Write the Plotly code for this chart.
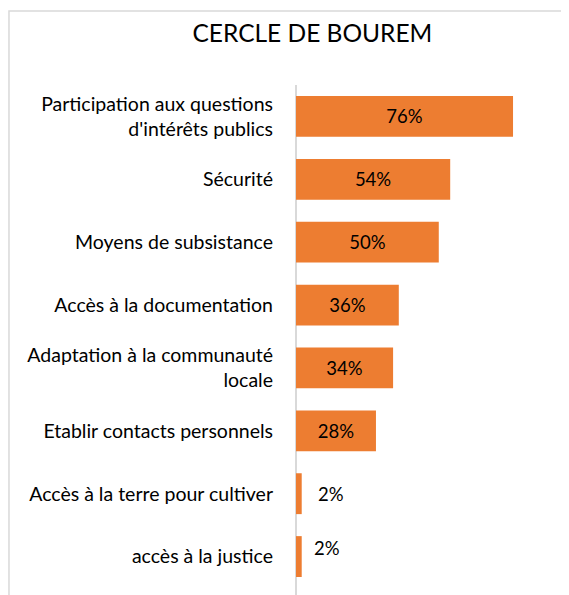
import plotly.graph_objects as go

categories = [
    "Participation aux questions<br>d'intérêts publics",
    "Sécurité",
    "Moyens de subsistance",
    "Accès à la documentation",
    "Adaptation à la communauté<br>locale",
    "Etablir contacts personnels",
    "Accès à la terre pour cultiver",
    "accès à la justice",
]
values = [76, 54, 50, 36, 34, 28, 2, 2]
labels = ["76%", "54%", "50%", "36%", "34%", "28%", "2%", "2%"]

FONT = "Lato, 'Open Sans', sans-serif"
inside_text = [t if v >= 10 else "" for t, v in zip(labels, values)]

fig = go.Figure(go.Bar(
    y=categories,
    x=values,
    orientation="h",
    marker=dict(color="#ED7D31", line=dict(width=0)),
    text=inside_text,
    textposition="inside",
    insidetextanchor="middle",
    textfont=dict(family=FONT, size=18.5, color="#000000"),
    hoverinfo="skip",
))

annotations = []
offsets = [(14, 0), (10, 9)]
k = 0
for c, v, t in zip(categories, values, labels):
    if v < 10:
        xs, ys = offsets[k % 2]
        annotations.append(dict(
            x=v, y=c, xref="x", yref="y", text=t, showarrow=False,
            xanchor="left", xshift=xs, yshift=ys,
            font=dict(family=FONT, size=18.5, color="#000000"),
        ))
        k += 1

fig.update_layout(
    width=569, height=595,
    margin=dict(l=288, r=12, t=77, b=15),
    paper_bgcolor="white", plot_bgcolor="white",
    title=dict(text="CERCLE DE BOUREM", x=0.535, xanchor="center", y=0.958, yanchor="middle",
               font=dict(family=FONT, size=24.5, color="#000000")),
    bargap=0.35,
    showlegend=False,
    annotations=annotations,
    xaxis=dict(range=[0, 94.2], showgrid=False, zeroline=False, showticklabels=False, showline=False),
    yaxis=dict(autorange="reversed", showgrid=False, zeroline=False, showline=False,
               ticklabelstandoff=22,
               tickfont=dict(family=FONT, size=19.5, color="#000000")),
    shapes=[
        dict(type="rect", xref="paper", yref="paper", x0=-1.067, x1=1.2, y0=-0.2, y1=1.147,
             line=dict(color="#D9D9D9", width=1.5), fillcolor="rgba(0,0,0,0)", layer="below"),
        dict(type="line", xref="paper", yref="paper", x0=0, x1=0, y0=-0.05, y1=1,
             line=dict(color="#D9D9D9", width=2), layer="below"),
    ],
)

fig.write_html("out.html")
